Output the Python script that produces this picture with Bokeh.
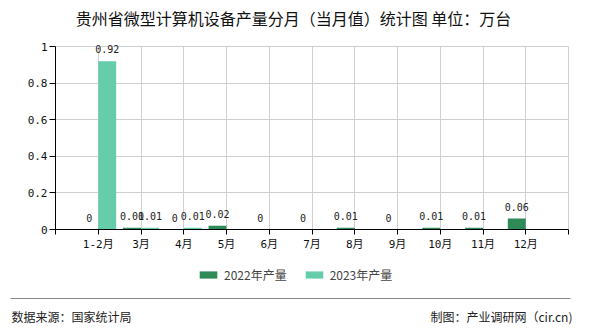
from bokeh.plotting import figure
from bokeh.models import (ColumnDataSource, Range1d, FixedTicker, Label, LabelSet,
                          Legend, LegendItem, BoxAnnotation, LinearAxis, Grid)
from bokeh.embed import file_html
from bokeh.resources import INLINE
from bokeh.core.properties import value

months = ["1-2月", "3月", "4月", "5月", "6月", "7月", "8月", "9月", "10月", "11月", "12月"]
v2022 = [0, 0.01, 0, 0.02, 0, 0, 0.01, 0, 0.01, 0.01, 0.06]
months_2023 = ["1-2月", "3月", "4月"]
v2023 = [0.92, 0.01, 0.01]
y_ticks = [0, 0.2, 0.4, 0.6, 0.8, 1]

TITLE = "贵州省微型计算机设备产量分月（当月值）统计图 单位：万台"
SOURCE = "数据来源：国家统计局"
CREDIT = "制图：产业调研网（cir.cn)"

C22 = "#2e8b57"
C23 = "#66cdaa"
NUMFONT = "DejaVu Sans Mono, Noto Sans CJK SC"
CJK = "Noto Sans CJK SC"

# page geometry (pixels)
W, H = 590, 330
PL, PR, PT, PB = 55, 568, 46, 229

n = len(months)
XMAX = n + 1
YMAX = 1
xs = (PR - PL) / XMAX
ys = (PB - PT) / YMAX

pos = {m: i + 1 for i, m in enumerate(months)}
half = 0.21

def fmt(v):
    return f"{v:g}"

src22 = ColumnDataSource(dict(x=[pos[m] - half for m in months], top=v2022,
                              lab=[fmt(v) for v in v2022]))
src23 = ColumnDataSource(dict(x=[pos[m] + half for m in months_2023], top=v2023,
                              lab=[fmt(v) for v in v2023]))

p = figure(width=W, height=H, output_backend="svg", toolbar_location=None,
           x_range=Range1d(-PL / xs, (W - PL) / xs),
           y_range=Range1d(-(H - PB) / ys, PB / ys),
           x_axis_location=None, y_axis_location=None,
           min_border=0)
p.outline_line_color = None
p.background_fill_color = "white"
p.border_fill_color = "white"
p.center = []

xt = list(range(0, XMAX + 1))
gx = Grid(dimension=0, ticker=FixedTicker(ticks=xt[1:]), cross_bounds=(0, YMAX),
          grid_line_color="#d0d0d0")
gy = Grid(dimension=1, ticker=FixedTicker(ticks=y_ticks[1:]), cross_bounds=(0, XMAX),
          grid_line_color="#d0d0d0")
p.add_layout(gx)
p.add_layout(gy)

r22 = p.vbar(x="x", top="top", width=2 * half, source=src22, color=C22, line_color=None)
r23 = p.vbar(x="x", top="top", width=2 * half, source=src23, color=C23, line_color=None)

for s in (src22, src23):
    p.add_layout(LabelSet(x="x", y="top", text="lab", source=s, y_offset=8,
                          text_align="center", text_baseline="alphabetic",
                          text_font=value(NUMFONT), text_font_size="10px", text_color="#222"))

ov = {0: "", XMAX: ""}
for m, i in pos.items():
    ov[i] = m
xaxis = LinearAxis(fixed_location=0, bounds=(0, XMAX), ticker=FixedTicker(ticks=xt),
                   major_label_overrides=ov)
yaxis = LinearAxis(fixed_location=0, bounds=(0, YMAX), ticker=FixedTicker(ticks=y_ticks),
                   major_label_overrides={t: fmt(t) for t in y_ticks})
for ax in (xaxis, yaxis):
    ax.axis_line_color = "black"
    ax.major_tick_line_color = "black"
    ax.major_tick_out = 5
    ax.major_tick_in = 0
    ax.minor_tick_line_color = None
    ax.major_label_text_font = NUMFONT
    ax.major_label_text_font_size = "11px"
    ax.major_label_text_color = "#111"
    ax.major_label_standoff = 3
yaxis.major_tick_out = 6
yaxis.major_label_standoff = 2
p.add_layout(xaxis, "below")
p.add_layout(yaxis, "left")

legend = Legend(items=[LegendItem(label="2022年产量", renderers=[r22]),
                       LegendItem(label="2023年产量", renderers=[r23])],
                orientation="horizontal", location=(197, H - 283),
                glyph_width=22, glyph_height=9, label_standoff=5, spacing=16,
                label_text_font=CJK, label_text_font_size="12px", label_height=14,
                padding=0, margin=0, border_line_color=None, background_fill_alpha=0)
p.add_layout(legend, "center")

p.add_layout(Label(x=293, y=H - 17.5, x_units="screen", y_units="screen", text=TITLE,
                   text_align="center", text_baseline="middle", text_font=CJK,
                   text_font_size="16px", text_color="#111"))
p.add_layout(Label(x=11, y=H - 316, x_units="screen", y_units="screen", text=SOURCE,
                   text_align="left", text_baseline="middle", text_font=CJK,
                   text_font_size="12px", text_color="#222"))
p.add_layout(Label(x=572, y=H - 316, x_units="screen", y_units="screen", text=CREDIT,
                   text_align="right", text_baseline="middle", text_font=CJK,
                   text_font_size="12px", text_color="#222"))
p.add_layout(BoxAnnotation(left=10, right=570, bottom=H - 298.5, top=H - 297.5,
                           left_units="screen", right_units="screen",
                           bottom_units="screen", top_units="screen",
                           fill_color="#888888", fill_alpha=1, line_color=None))

open("out.html", "w").write(file_html(p, INLINE))
